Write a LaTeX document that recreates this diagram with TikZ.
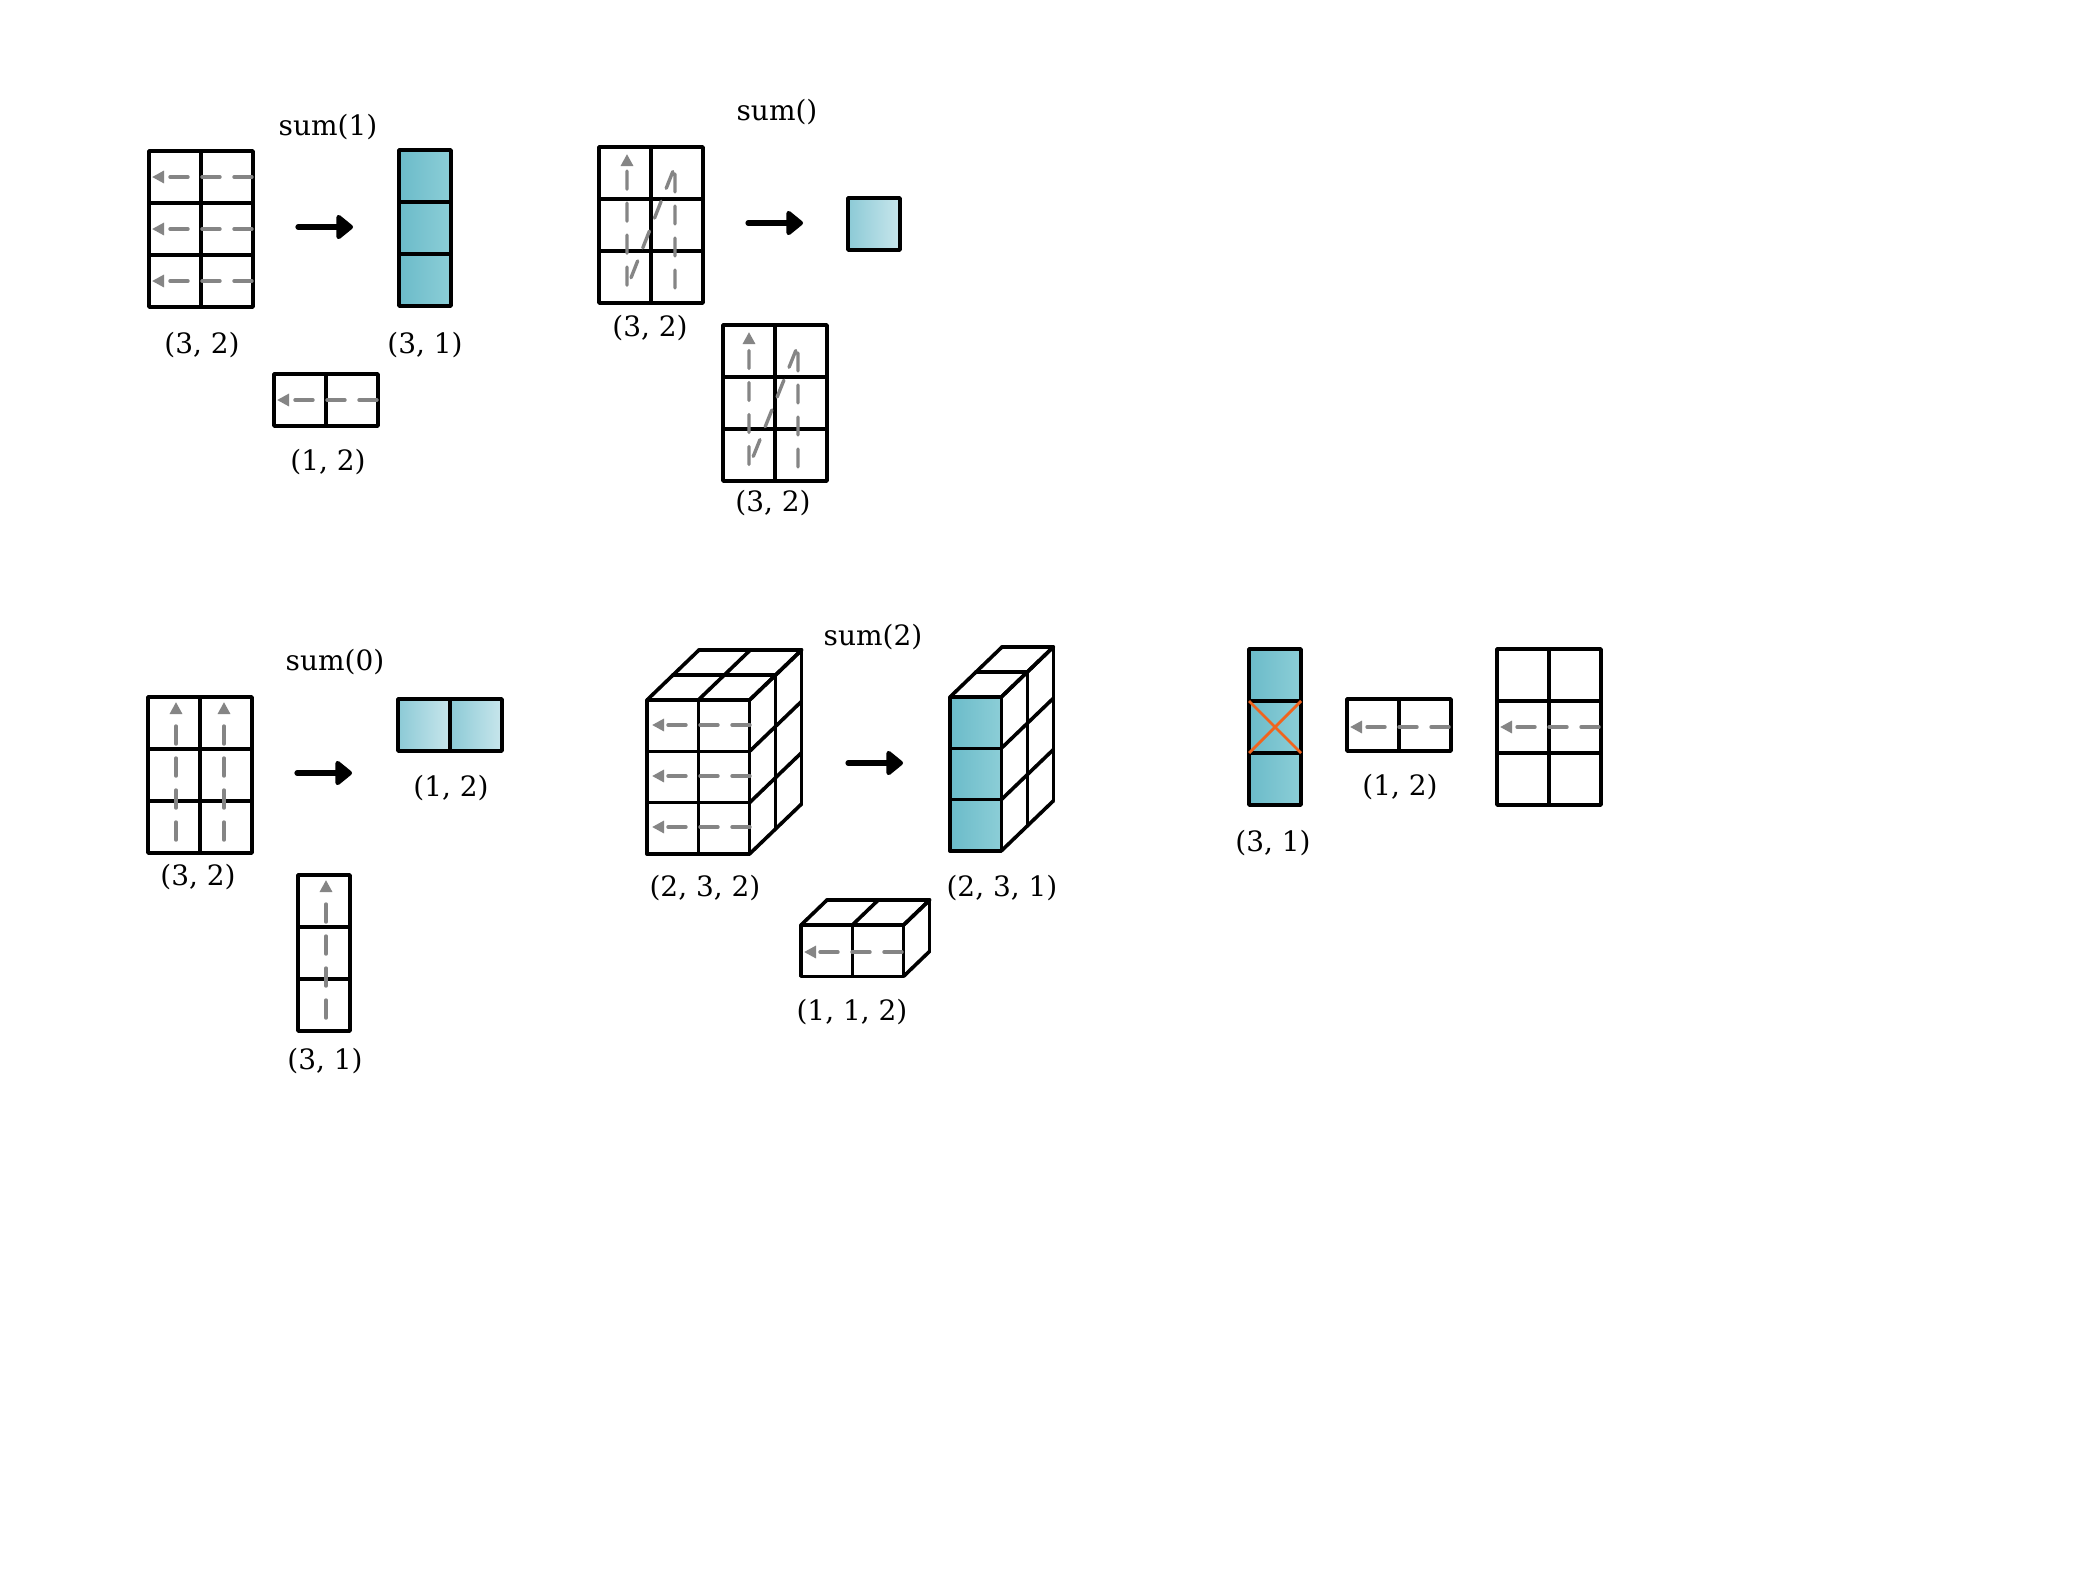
\documentclass[tikz,border=0pt]{standalone}
\usepackage{fontspec}
\setmainfont{DejaVu Serif}
\usetikzlibrary{arrows.meta}
\definecolor{tealD}{HTML}{6BBBC9}
\definecolor{tealDR}{HTML}{8CCED7}
\definecolor{tealL}{HTML}{8CCAD6}
\definecolor{tealLR}{HTML}{C8E6EC}
\definecolor{dgray}{HTML}{858585}
\definecolor{xorange}{HTML}{F0641E}
\def\cs{52}
\def\cc{51.3}
\def\ddx{26}
\def\ddy{-25}
\newcommand\cells[5]{%
  \foreach \i in {1,...,#3}{\foreach \j in {1,...,#4}{
    \draw[cellline,#5] ({#1+(\i-1)*\cs},{#2+(\j-1)*\cs}) rectangle ++(\cs,\cs);}}}
\newcommand\cube[6]{%
  \pgfmathsetmacro\xone{#1+#3*\cc}
  \foreach \i in {1,...,#3}{\foreach \j in {1,...,#4}{
    \draw[cellline,#6] ({#1+(\i-1)*\cc},{#2+(\j-1)*\cc}) rectangle ++(\cc,\cc);}}
  \foreach \k in {1,...,#5}{\draw[cellline] ({#1+\k*\ddx},{#2+\k*\ddy}) -- ++({#3*\cc},0);}
  \foreach \i in {0,...,#3}{\draw[cellline] ({#1+\i*\cc},#2) -- ++({#5*\ddx},{#5*\ddy});}
  \foreach \k in {1,...,#5}{\draw[cellline] ({\xone+\k*\ddx},{#2+\k*\ddy}) -- ++(0,{#4*\cc});}
  \foreach \j in {0,...,#4}{\draw[cellline] (\xone,{#2+\j*\cc}) -- ++({#5*\ddx},{#5*\ddy});}
}
\begin{document}
\begin{tikzpicture}[x=0.5pt,y=-0.5pt,
  cellline/.style={line width=1.8pt,line join=round,line cap=round},
  darkfill/.style={left color=tealD,right color=tealDR},
  lightfill/.style={left color=tealL,right color=tealLR},
  dasharrow/.style={draw=dgray,line width=1.7pt,line join=round,line cap=round,dash pattern=on 9pt off 7pt,-{Triangle[length=6pt,width=6pt]}},
  bigarrow/.style={line width=2.6pt,line cap=round,-{Triangle[length=9pt,width=14pt,round]}},
  lab/.style={font=\fontsize{14}{16}\selectfont,inner sep=0pt},
  xline/.style={draw=xorange,line width=1.4pt}]
\fill[white] (0,0) rectangle (2093,1570);
\useasboundingbox (0,0) rectangle (2093,1570);

% ---------- sum(1)
\cells{149}{151}{2}{3}{fill=white}
\foreach \y in {177,229,281}{\draw[dasharrow] (252,\y) -- (152,\y);}
\cells{399}{150}{1}{3}{darkfill}
\cells{274}{374}{2}{1}{fill=white}
\draw[dasharrow] (377,400) -- (277,400);
\coordinate (a1s) at (298,227); \coordinate (a1e) at (353,227);
\draw[bigarrow] (a1s) -- (a1e);
\node[lab] (t1) at (328,127) {sum(1)};
\node[lab] (l1a) at (202,345) {(3, 2)};
\node[lab] (l1b) at (425,345) {(3, 1)};
\node[lab] (l1c) at (328,462) {(1, 2)};

% ---------- sum()
\cells{599}{147}{2}{3}{fill=white}
\draw[dasharrow] (675,288) -- (675,166) -- (627,288) -- (627,154);
\cells{848}{198}{1}{1}{lightfill}
\cells{723}{325}{2}{3}{fill=white}
\draw[dasharrow] (798,467) -- (798,345) -- (749,467) -- (749,332);
\coordinate (a2s) at (748,223); \coordinate (a2e) at (803,223);
\draw[bigarrow] (a2s) -- (a2e);
\node[lab] (t2) at (777,112) {sum()};
\node[lab] (l2a) at (650,328) {(3, 2)};
\node[lab] (l2b) at (773,503) {(3, 2)};

% ---------- sum(0)
\cells{148}{697}{2}{3}{fill=white}
\draw[dasharrow] (176,840) -- (176,702);
\draw[dasharrow] (224,840) -- (224,702);
\cells{398}{699}{2}{1}{lightfill}
\cells{298}{875}{1}{3}{fill=white}
\draw[dasharrow] (326,1018) -- (326,880);
\coordinate (a3s) at (297,773); \coordinate (a3e) at (352,773);
\draw[bigarrow] (a3s) -- (a3e);
\node[lab] (t3) at (335,662) {sum(0)};
\node[lab] (l3a) at (198,877) {(3, 2)};
\node[lab] (l3b) at (451,788) {(1, 2)};
\node[lab] (l3c) at (325,1061) {(3, 1)};

% ---------- sum(2)
\cube{647}{700}{2}{3}{2}{fill=white}
\foreach \y in {725,776,827}{\draw[dasharrow] (750,\y) -- (652,\y);}
\cube{950}{697}{1}{3}{2}{darkfill}
\cube{801}{925}{2}{1}{1}{fill=white}
\draw[dasharrow] (902,952) -- (804,952);
\coordinate (a4s) at (848,763); \coordinate (a4e) at (903,763);
\draw[bigarrow] (a4s) -- (a4e);
\node[lab] (t4) at (873,637) {sum(2)};
\node[lab] (l4a) at (705,888) {(2, 3, 2)};
\node[lab] (l4b) at (1002,888) {(2, 3, 1)};
\node[lab] (l4c) at (852,1012) {(1, 1, 2)};

% ---------- right group
\cells{1249}{649}{1}{3}{darkfill}
\draw[xline] (1249,701) -- (1301,753);
\draw[xline] (1301,701) -- (1249,753);
\cells{1347}{699}{2}{1}{fill=white}
\draw[dasharrow] (1449,727) -- (1350,727);
\cells{1497}{649}{2}{3}{fill=white}
\draw[dasharrow] (1599,727) -- (1500,727);
\node[lab] (l5a) at (1273,843) {(3, 1)};
\node[lab] (l5b) at (1400,787) {(1, 2)};
\end{tikzpicture}
\end{document}
